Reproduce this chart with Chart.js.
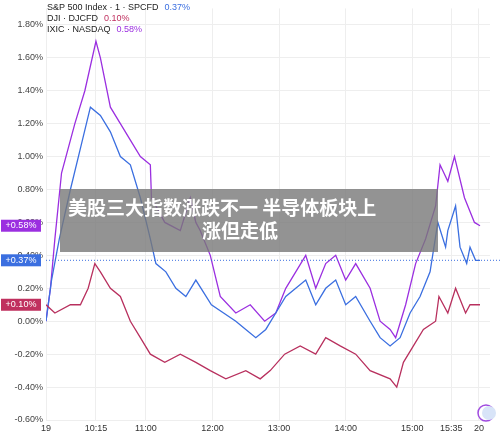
<!DOCTYPE html>
<html><head><meta charset="utf-8">
<script src="https://cdn.jsdelivr.net/npm/chart.js@4"></script>
<style>body{margin:0;background:#fff}#wrap{width:500px;height:441px;position:relative}</style>
</head><body><div id="wrap"><canvas id="c"></canvas></div>
<script>
// minutes since 9:30 open
const spxMinutes = [0,5,12,22,31,40,49,58,67,76,85,94,99,108,117,126,135,149,160,171,180,189,198,207,216,225,234,243,252,261,270,279,292,301,310,319,328,337,346,353,360,362,369,373,379,382,387,391];
const spxValues  = [0.0,0.25,0.5,0.8,1.05,1.3,1.25,1.15,1.0,0.95,0.75,0.5,0.35,0.3,0.2,0.15,0.25,0.1,0.05,0.0,-0.05,-0.1,-0.05,0.05,0.15,0.2,0.25,0.1,0.2,0.25,0.1,0.15,0.0,-0.1,-0.15,-0.1,0.05,0.15,0.3,0.6,0.45,0.55,0.7,0.45,0.35,0.45,0.37,0.37];
const djiMinutes = [0,8,22,31,38,44,49,58,67,76,85,94,107,121,135,148,162,180,193,202,215,229,243,252,265,279,292,310,316,322,331,340,351,354,362,369,378,382,391];
const djiValues  = [0.1,0.05,0.1,0.1,0.2,0.35,0.3,0.2,0.15,0.0,-0.1,-0.2,-0.25,-0.2,-0.25,-0.3,-0.35,-0.3,-0.35,-0.3,-0.2,-0.15,-0.2,-0.1,-0.15,-0.2,-0.3,-0.35,-0.4,-0.25,-0.15,-0.05,0.0,0.15,0.05,0.2,0.05,0.1,0.1];
const ndxMinutes = [0,4,8,14,26,35,45,49,58,67,76,85,94,95,107,121,130,135,139,148,157,171,184,197,207,216,225,234,243,252,261,270,279,292,301,310,315,324,333,342,351,355,362,368,377,386,391];
const ndxValues  = [0.0,0.2,0.5,0.9,1.2,1.4,1.7,1.6,1.3,1.2,1.1,1.0,0.95,0.75,0.6,0.55,0.75,0.6,0.55,0.4,0.15,0.05,0.1,0.0,0.05,0.2,0.3,0.4,0.2,0.35,0.4,0.25,0.35,0.2,0.0,-0.05,-0.1,0.1,0.35,0.5,0.7,0.95,0.85,1.0,0.75,0.6,0.58];
const timeTicks = [0,45,90,150,210,270,330,365,390];
const timeLabels = ['19','10:15','11:00','12:00','13:00','14:00','15:00','15:35','20'];
const legendRows = [['S&P 500 Index · 1 · SPCFD','0.37%','#3b6fe0'],['DJI · DJCFD','0.10%','#c0305f'],['IXIC · NASDAQ','0.58%','#9b2fe0']];
const badges = [['+0.58%',0.58,'#9b2fe0'],['+0.37%',0.37,'#3b6fe0'],['+0.10%',0.10,'#c0305f']];

const pts = (xs, ys) => xs.map((x, i) => ({ x: x, y: ys[i] }));

const overlay = {
  id: 'overlay',
  afterDraw(chart) {
    const { ctx, scales: { y } } = chart;
    ctx.save();
    // last price dotted line
    ctx.strokeStyle = '#3b6fe0'; ctx.setLineDash([1, 2]); ctx.lineWidth = 1;
    ctx.beginPath(); ctx.moveTo(46, y.getPixelForValue(0.37)); ctx.lineTo(500, y.getPixelForValue(0.37)); ctx.stroke();
    ctx.setLineDash([]);
    // legend
    ctx.font = '9px "Liberation Sans", Arial'; ctx.textBaseline = 'middle';
    legendRows.forEach(([name, val, col], i) => {
      ctx.fillStyle = '#222'; ctx.fillText(name, 47, 8 + i * 11);
      ctx.fillStyle = col; ctx.fillText(val, 49 + ctx.measureText(name).width + 4, 8 + i * 11);
    });
    // badges on axis
    badges.forEach(([t, v, col]) => {
      const py = y.getPixelForValue(v);
      ctx.fillStyle = col; ctx.fillRect(1, py - 6, 40, 12);
      ctx.fillStyle = '#fff'; ctx.font = '9px "Liberation Sans", Arial'; ctx.textAlign = 'center';
      ctx.fillText(t, 21, py);
    });
    // caption box
    ctx.fillStyle = 'rgba(120,120,120,0.8)'; ctx.fillRect(60, 189, 378, 63);
    ctx.fillStyle = '#fff'; ctx.font = 'bold 19px "Noto Sans CJK SC"'; ctx.textAlign = 'left';
    ctx.fillText('美股三大指数涨跌不一 半导体板块上', 68, 208);
    ctx.textAlign = 'center'; ctx.fillText('涨但走低', 240, 231);
    // flag icon
    ctx.strokeStyle = '#a04be0'; ctx.lineWidth = 1.5;
    ctx.beginPath(); ctx.arc(486, 413, 8, 0, Math.PI * 2); ctx.stroke();
    ctx.fillStyle = '#d8e4f8'; ctx.beginPath(); ctx.arc(489, 413, 7, 0, Math.PI * 2); ctx.fill();
    ctx.restore();
  }
};

const line = (data, col) => ({ data: data, borderColor: col, borderWidth: 1.3, pointRadius: 0, tension: 0 });

new Chart(document.getElementById('c'), {
  type: 'line',
  data: { datasets: [
    line(pts(djiMinutes, djiValues), '#b8305e'),
    line(pts(spxMinutes, spxValues), '#3b6fe0'),
    line(pts(ndxMinutes, ndxValues), '#9b2fe0')
  ] },
  options: {
    responsive: true, maintainAspectRatio: false, animation: false,
    layout: { padding: { top: 3, right: 10, left: 0, bottom: 0 } },
    plugins: { legend: { display: false }, tooltip: { enabled: false } },
    scales: {
      x: {
        type: 'linear', min: 0, max: 400,
        afterBuildTicks: (s) => { s.ticks = timeTicks.map(v => ({ value: v })); },
        afterFit: (s) => { s.height = 21; },
        ticks: { autoSkip: false, maxRotation: 0, color: '#333', font: { size: 9, family: 'Liberation Sans' },
          callback: (v) => timeLabels[timeTicks.indexOf(v)] },
        grid: { color: '#eee', drawTicks: false }, border: { display: false }
      },
      y: {
        min: -0.6, max: 1.9,
        afterBuildTicks: (s) => { s.ticks = [-0.6,-0.4,-0.2,0,0.2,0.4,0.6,0.8,1.0,1.2,1.4,1.6,1.8].map(v => ({ value: v })); },
        afterFit: (s) => { s.width = 46; },
        ticks: { color: '#444', font: { size: 9, family: 'Liberation Sans' }, callback: (v) => v.toFixed(2) + '%' },
        grid: { color: '#eee', drawTicks: false }, border: { display: false }
      }
    }
  },
  plugins: [overlay]
});
</script></body></html>
